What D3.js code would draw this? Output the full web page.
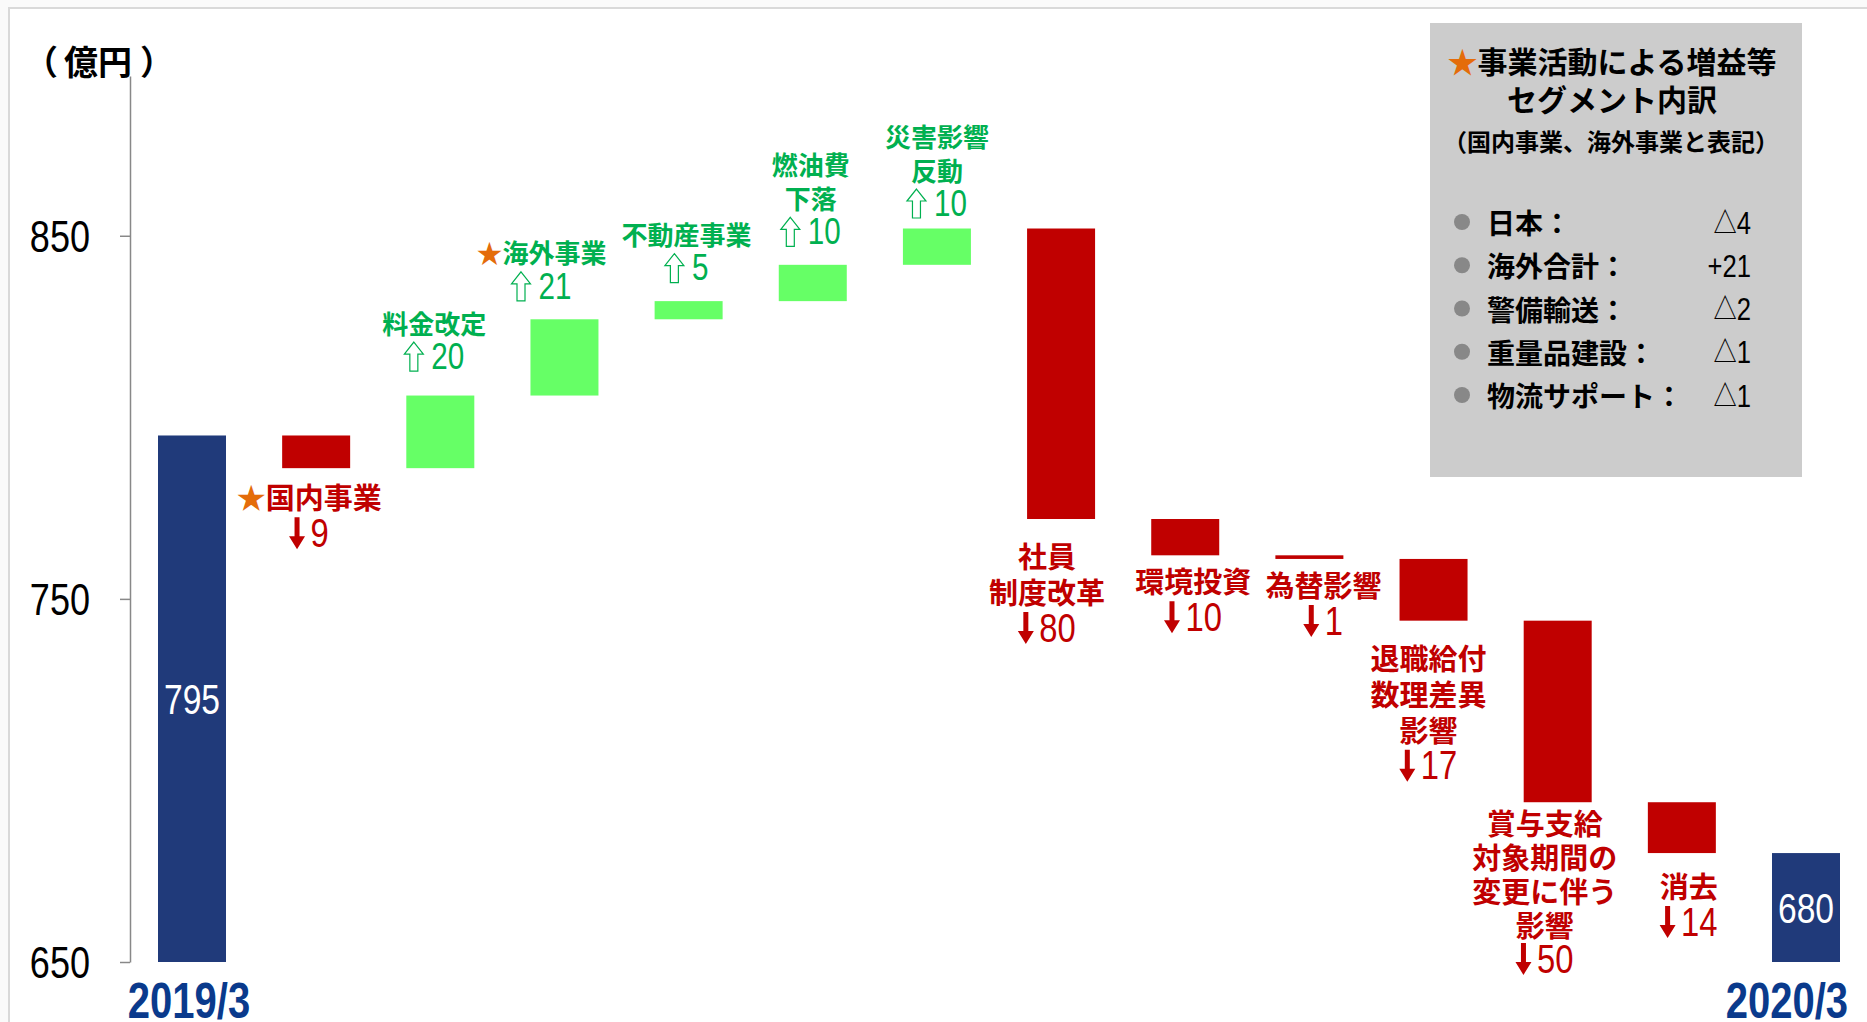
<!DOCTYPE html>
<html>
<head>
<meta charset="utf-8">
<script src="https://cdn.jsdelivr.net/npm/d3@7"></script>
<style>
  html, body { margin: 0; padding: 0; background: #fafafa; overflow: hidden; }
  svg { display: block; }
</style>
</head>
<body>
<svg id="chart1"></svg>
<script>
// ---- data ----
var categories = ["2019/3", "国内事業", "料金改定", "海外事業", "不動産事業", "燃油費下落", "災害影響反動",
	"社員制度改革", "環境投資", "為替影響", "退職給付数理差異影響", "賞与支給対象期間の変更に伴う影響", "消去", "2020/3"];
var startValue = 795;
var endValue = 680;
var deltas = [null, -9, 20, 21, 5, 10, 10, -80, -10, -1, -17, -50, -14, null];
var labelLines = [
	[], ["国内事業"], ["料金改定"], ["海外事業"], ["不動産事業"], ["燃油費", "下落"], ["災害影響", "反動"],
	["社員", "制度改革"], ["環境投資"], ["為替影響"], ["退職給付", "数理差異", "影響"],
	["賞与支給", "対象期間の", "変更に伴う", "影響"], ["消去"], []
];
var starred = [false, true, false, true, false, false, false, false, false, false, false, false, false, false];
var endLabels = ["2019/3", "2020/3"];
var yTicks = [650, 750, 850];
var unitLabel = ["（", "億円", "）"];

var legendTitle = ["事業活動による増益等", "セグメント内訳"];
var legendNote = "（国内事業、海外事業と表記）";
var legendNames = ["日本：", "海外合計：", "警備輸送：", "重量品建設：", "物流サポート："];
var legendSigns = ["△", "+", "△", "△", "△"];
var legendValues = ["4", "21", "2", "1", "1"];

// ---- setup ----
var W = 1867, H = 1022;
var navy = "#203a7a", red = "#c00000", green = "#66ff66", greenText = "#00b050",
	orange = "#e46c0a", axisGray = "#888888";
var cjk = "'Noto Sans CJK JP', 'Noto Sans', sans-serif";
var sans = "'Liberation Sans', Arial, sans-serif";
var squeeze = 0.8;   // condensed look for figures

// hand placement of the annotation blocks, [dx, dy] in px
var labelNudge = [[0, 0], [-7, -4], [-6, -6], [-23, 0], [-2, 0], [-2, 0], [0, 8],
	[-14, 4], [8, -7], [14, -7], [-5, 4], [-13, 0], [7, 0], [0, 0]];

var svg = d3.select("#chart1").attr("width", W).attr("height", H);

// frame
svg.append("rect")
	.attr("x", 9).attr("y", 8).attr("width", W + 20).attr("height", H + 20)
	.style("fill", "white").style("stroke", "#d9d9d9").style("stroke-width", 2);

var x = d3.scalePoint().domain(categories).range([192, 1806]);
var y = d3.scaleLinear().domain([650, 894]).range([962, 76]);
var barW = 68;

// narrow figure text, squeezed horizontally
function narrowText(parent, px, py, txt, size, anchor, col, bold) {
	var g = parent.append("g")
		.attr("transform", "translate(" + px + "," + py + ") scale(" + squeeze + ",1)");
	var t = g.append("text")
		.attr("text-anchor", anchor).attr("dy", "0.36em")
		.attr("font-family", sans).attr("font-size", size + "px")
		.attr("font-weight", bold ? 700 : 400)
		.attr("fill", col).text(txt);
	return t;
}

// running base of the waterfall
var bars = [];
var level = startValue;
categories.forEach(function (c, i) {
	if (i === 0) {
		bars.push({ cat: c, lo: 650, hi: startValue, kind: "total", value: startValue, i: i });
	} else if (i === categories.length - 1) {
		bars.push({ cat: c, lo: 650, hi: endValue, kind: "total", value: endValue, i: i });
	} else {
		var next = level + deltas[i];
		bars.push({ cat: c, lo: Math.min(level, next), hi: Math.max(level, next),
			kind: deltas[i] > 0 ? "up" : "down", value: deltas[i], i: i });
		level = next;
	}
});

// axis
var yAxis = d3.axisLeft(y).tickValues(yTicks).tickSize(10).tickSizeOuter(0).tickPadding(0);
var gAxis = svg.append("g").attr("transform", "translate(130,0)").call(yAxis);
gAxis.select(".domain").style("stroke", axisGray).style("stroke-width", 1.5);
gAxis.selectAll(".tick line").style("stroke", axisGray).style("stroke-width", 1.5);
gAxis.selectAll(".tick text")
	.attr("font-family", sans).attr("font-size", "44px").attr("fill", "black")
	.attr("transform", "scale(0.82,1)")
	.attr("x", -40 / 0.82)
	.attr("dy", "0.36em");

var ut = svg.append("text")
	.attr("x", 24).attr("y", 60)
	.attr("dominant-baseline", "central")
	.attr("font-family", cjk).attr("font-weight", 700).attr("font-size", "34px");
ut.append("tspan").text(unitLabel[0]);
ut.append("tspan").attr("dx", 6).text(unitLabel[1]);
ut.append("tspan").attr("dx", 8).text(unitLabel[2]);

// bars
svg.selectAll("rect.bar")
	.data(bars)
	.enter().append("rect")
	.attr("class", "bar")
	.attr("x", function (d) { return x(d.cat) - barW / 2; })
	.attr("width", barW)
	.attr("y", function (d) { return y(d.hi); })
	.attr("height", function (d) { return Math.max(2, y(d.lo) - y(d.hi)); })
	.style("fill", function (d) { return d.kind === "total" ? navy : (d.kind === "up" ? green : red); });

// totals inside bars
bars.filter(function (d) { return d.kind === "total"; }).forEach(function (d) {
	narrowText(svg, x(d.cat), (y(d.hi) + y(d.lo)) / 2, d.value, 42, "middle", "white", false);
});

// bottom labels
narrowText(svg, x(categories[0]) - 3, 1000, endLabels[0], 50, "middle", "#0a3a8c", true);
narrowText(svg, 1848, 1000, endLabels[1], 50, "end", "#0a3a8c", true);

// arrows
function upArrow(w, h, hh, sw) {
	return "M0," + (-h / 2) + "L" + (w / 2) + "," + (-h / 2 + hh) + "L" + (sw / 2) + "," + (-h / 2 + hh) +
		"L" + (sw / 2) + "," + (h / 2) + "L" + (-sw / 2) + "," + (h / 2) + "L" + (-sw / 2) + "," + (-h / 2 + hh) +
		"L" + (-w / 2) + "," + (-h / 2 + hh) + "Z";
}
function downArrow(w, h, hh, sw) {
	return "M0," + (h / 2) + "L" + (w / 2) + "," + (h / 2 - hh) + "L" + (sw / 2) + "," + (h / 2 - hh) +
		"L" + (sw / 2) + "," + (-h / 2) + "L" + (-sw / 2) + "," + (-h / 2) + "L" + (-sw / 2) + "," + (h / 2 - hh) +
		"L" + (-w / 2) + "," + (h / 2 - hh) + "Z";
}

function numberLine(cx, cy, d) {
	var up = d.kind === "up";
	var col = up ? greenText : red;
	var size = up ? 37 : 41;
	var t = narrowText(svg, 0, cy, Math.abs(d.value), size, "start", col, false);
	var tw = t.node().getComputedTextLength() * squeeze;
	var aw = up ? 19 : 15, gap = up ? 8 : 6;
	var left = cx - (aw + gap + tw) / 2;
	d3.select(t.node().parentNode)
		.attr("transform", "translate(" + (left + aw + gap) + "," + cy + ") scale(" + squeeze + ",1)");
	svg.append("path")
		.attr("d", up ? upArrow(19, 29, 12, 8) : downArrow(16, 32, 13, 5))
		.attr("transform", "translate(" + (left + aw / 2) + "," + (cy + 1) + ")")
		.style("fill", up ? "white" : red)
		.style("stroke", up ? greenText : "none")
		.style("stroke-width", 1.2);
}

function textLine(cx, cy, txt, d, star) {
	var t = svg.append("text")
		.attr("x", cx).attr("y", cy)
		.attr("text-anchor", "middle").attr("dominant-baseline", "central")
		.attr("font-family", cjk).attr("font-weight", 700)
		.attr("font-size", d.kind === "up" ? "26px" : "29px")
		.attr("fill", d.kind === "up" ? greenText : red);
	if (star) t.append("tspan").attr("fill", orange).text("★");
	t.append("tspan").text(txt);
}

bars.forEach(function (d) {
	if (d.kind === "total") return;
	var nd = labelNudge[d.i];
	var cx = x(d.cat) + nd[0];
	var lines = labelLines[d.i];
	if (d.kind === "up") {
		var sp = 34;
		var numY = y(d.hi) - 34 + nd[1];
		numberLine(cx, numY, d);
		lines.forEach(function (ln, k) {
			textLine(cx, numY - sp * (lines.length - k), ln, d, starred[d.i] && k === 0);
		});
	} else {
		var n = lines.length;
		var gap = Math.min(32, 958 - y(d.lo) - n * 34);
		var sp2 = gap < 32 ? 34 : 36;
		var y0 = y(d.lo) + gap + nd[1];
		lines.forEach(function (ln, k) {
			textLine(cx, y0 + sp2 * k, ln, d, starred[d.i] && k === 0);
		});
		numberLine(cx, y0 + sp2 * n, d);
	}
});

// legend box
var lg = svg.append("g");
lg.append("rect").attr("x", 1430).attr("y", 23).attr("width", 372).attr("height", 454)
	.style("fill", "#cccccc");
var t1 = lg.append("text").attr("x", 1612).attr("y", 60)
	.attr("text-anchor", "middle").attr("dominant-baseline", "central")
	.attr("font-family", cjk).attr("font-weight", 700).attr("font-size", "30px");
t1.append("tspan").attr("fill", orange).text("★");
t1.append("tspan").attr("fill", "black").text(legendTitle[0]);
lg.append("text").attr("x", 1612).attr("y", 98)
	.attr("text-anchor", "middle").attr("dominant-baseline", "central")
	.attr("font-family", cjk).attr("font-weight", 700).attr("font-size", "30px")
	.text(legendTitle[1]);
lg.append("text").attr("x", 1611).attr("y", 140)
	.attr("text-anchor", "middle").attr("dominant-baseline", "central")
	.attr("font-family", cjk).attr("font-weight", 700).attr("font-size", "24px")
	.text(legendNote);

var rowY = d3.scalePoint().domain(d3.range(legendNames.length)).range([222, 395]);
legendNames.forEach(function (nm, k) {
	lg.append("circle").attr("cx", 1462).attr("cy", rowY(k)).attr("r", 8).style("fill", "#888888");
	lg.append("text").attr("x", 1487).attr("y", rowY(k))
		.attr("dominant-baseline", "central")
		.attr("font-family", cjk).attr("font-weight", 700).attr("font-size", "28px")
		.text(nm);
	var vt = narrowText(lg, 1751, rowY(k), "", 32, "end", "black", false);
	vt.append("tspan")
		.attr("font-family", legendSigns[k] === "△" ? cjk : sans)
		.attr("font-size", legendSigns[k] === "△" ? "29px" : "32px")
		.text(legendSigns[k]);
	vt.append("tspan").text(legendValues[k]);
});
</script>
</body>
</html>
